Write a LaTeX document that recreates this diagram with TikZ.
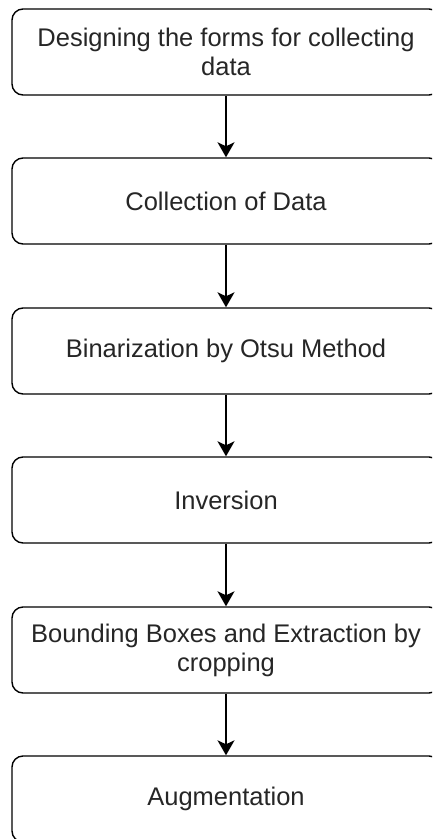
\documentclass[tikz,border=0pt]{standalone}
\usepackage{fontspec}
\setmainfont{Liberation Sans}
\usetikzlibrary{arrows.meta}
\begin{document}
\begin{tikzpicture}[x=1pt,y=-1pt,
  stepbox/.style={draw=black, rounded corners=11pt, line width=1.4pt,
    minimum width=428pt, minimum height=86pt, inner sep=0pt,
    align=center, text=black!85,
    font=\fontsize{25.5}{29}\selectfont},
  flow/.style={draw=black, line width=1.4pt,
    -{Stealth[length=15pt, width=17pt, inset=4pt]}}]
  \useasboundingbox (0,0) rectangle (432,839);
  \clip (0,0) rectangle (432,839);
  % process steps, top to bottom
  \node[stepbox] (s1) at (226,52)  {Designing the forms for collecting\\data};
  \node[stepbox] (s2) at (226,201) {Collection of Data};
  \node[stepbox] (s3) at (226,351) {Binarization by Otsu Method};
  \node[stepbox] (s4) at (226,500) {Inversion};
  \node[stepbox] (s5) at (226,650) {Bounding Boxes and Extraction by\\cropping};
  \node[stepbox] (s6) at (226,799) {Augmentation};
  % connectors
  \draw[flow] (s1) -- (s2);
  \draw[flow] (s2) -- (s3);
  \draw[flow] (s3) -- (s4);
  \draw[flow] (s4) -- (s5);
  \draw[flow] (s5) -- (s6);
\end{tikzpicture}
\end{document}
